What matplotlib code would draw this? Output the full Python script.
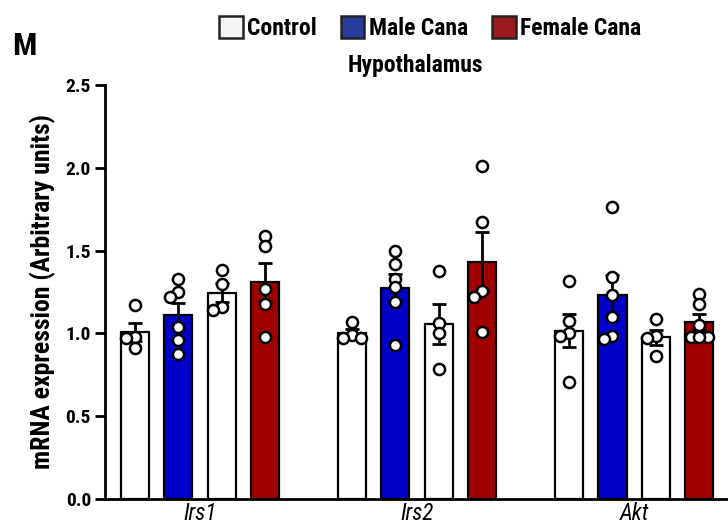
import numpy as np
import matplotlib
matplotlib.use("Agg")
import matplotlib.pyplot as plt
from matplotlib.patches import Patch

plt.rcParams['font.family'] = ['Roboto Condensed', 'DejaVu Sans']
plt.rcParams['font.weight'] = 'bold'

# data
genes = ["Irs1", "Irs2", "Akt"]
groups = ["Control", "Male Cana", "Control", "Female Cana"]

irs1_ctrl_m = [1.17, 0.98, 0.97, 0.91]
irs1_male = [1.33, 1.25, 1.22, 1.04, 0.96, 0.875]
irs1_ctrl_f = [1.38, 1.30, 1.16, 1.14]
irs1_female = [1.59, 1.53, 1.27, 1.18, 0.98]

irs2_ctrl_m = [1.07, 0.99, 0.97, 0.97]
irs2_male = [1.50, 1.42, 1.33, 1.28, 1.19, 0.93]
irs2_ctrl_f = [1.377, 1.06, 1.0, 0.785]
irs2_female = [2.01, 1.67, 1.256, 1.22, 1.01]

akt_ctrl_m = [1.316, 1.075, 1.0, 0.985, 0.707]
akt_male = [1.765, 1.34, 1.23, 1.10, 0.985, 0.966]
akt_ctrl_f = [1.087, 0.985, 0.97, 0.864]
akt_female = [1.24, 1.18, 1.05, 0.98, 0.98, 0.98]

all_sets = [
    [irs1_ctrl_m, irs1_male, irs1_ctrl_f, irs1_female],
    [irs2_ctrl_m, irs2_male, irs2_ctrl_f, irs2_female],
    [akt_ctrl_m, akt_male, akt_ctrl_f, akt_female],
]

bar_colors = ["white", "#0000c8", "white", "#a00000"]

fig = plt.figure(figsize=(7.28, 5.31), dpi=100)
ax = fig.add_axes([0.144, 0.0603, 0.856, 0.7797])
ax.set_xlim(-0.69, 13.66)
ax.set_ylim(0, 2.5)


def swarm(vals, x0, ax, diam_px=8, step=0.2):
    # simple beeswarm: place each point at the nearest free slot
    order = np.argsort(vals)[::-1]
    placed = []
    xs = np.zeros(len(vals))
    for i in order:
        for k in [0, -1, 1, -2, 2, -3, 3]:
            x = x0 + k * step
            p = ax.transData.transform((x, vals[i]))
            if all(np.hypot(*(p - q)) >= diam_px for q in placed):
                break
        placed.append(p)
        xs[i] = x
    return xs


width = 0.65
for g, sets in enumerate(all_sets):
    for i, vals in enumerate(sets):
        x0 = g * 5 + i
        vals = np.array(vals)
        m = vals.mean()
        sem = vals.std(ddof=1) / np.sqrt(len(vals))
        ax.bar(x0, m, width=width, color=bar_colors[i], edgecolor="black",
               linewidth=1.6, zorder=2)
        ax.errorbar(x0, m, yerr=sem, color="black", capsize=5, elinewidth=2,
                    capthick=2, zorder=3)
        xs = swarm(vals, x0, ax)
        ax.plot(xs, vals, "o", markersize=8, markerfacecolor="white",
                markeredgecolor="black", markeredgewidth=1.8, zorder=4,
                clip_on=False)

ax.set_xticks([g * 5 + 1.5 for g in range(3)])
ax.set_xticklabels(genes, fontstyle="italic", fontweight="normal", fontsize=16.5)
ax.set_yticks(np.arange(0, 2.51, 0.5))
ax.set_yticklabels([f"{v:.1f}" for v in np.arange(0, 2.51, 0.5)], fontsize=14)
ax.tick_params(axis="y", width=2, length=7, direction="out", pad=3)
ax.tick_params(axis="x", length=0, pad=2)
for s in ["top", "right"]:
    ax.spines[s].set_visible(False)
for s in ["left", "bottom"]:
    ax.spines[s].set_linewidth(2)

ax.set_ylabel("mRNA expression (Arbitrary units)", fontsize=18.5,
              fontweight="bold", labelpad=7)

fig.text(0.571, 0.877, "Hypothalamus", ha="center", va="center", fontsize=17)
fig.text(0.016, 0.913, "M", ha="left", va="center", fontsize=23)

handles = [Patch(facecolor="#f5f5f5", edgecolor="#222222", linewidth=1.8),
           Patch(facecolor="#283c9c", edgecolor="#222222", linewidth=1.8),
           Patch(facecolor="#9b1a1e", edgecolor="#222222", linewidth=1.8)]
fig.legend(handles, ["Control", "Male Cana", "Female Cana"], ncol=3,
           loc="center", bbox_to_anchor=(0.591, 0.948), frameon=False,
           fontsize=17, handlelength=1.0, handleheight=1.05, handletextpad=0.2,
           columnspacing=1.0)

fig.savefig("out.png", dpi=100)
